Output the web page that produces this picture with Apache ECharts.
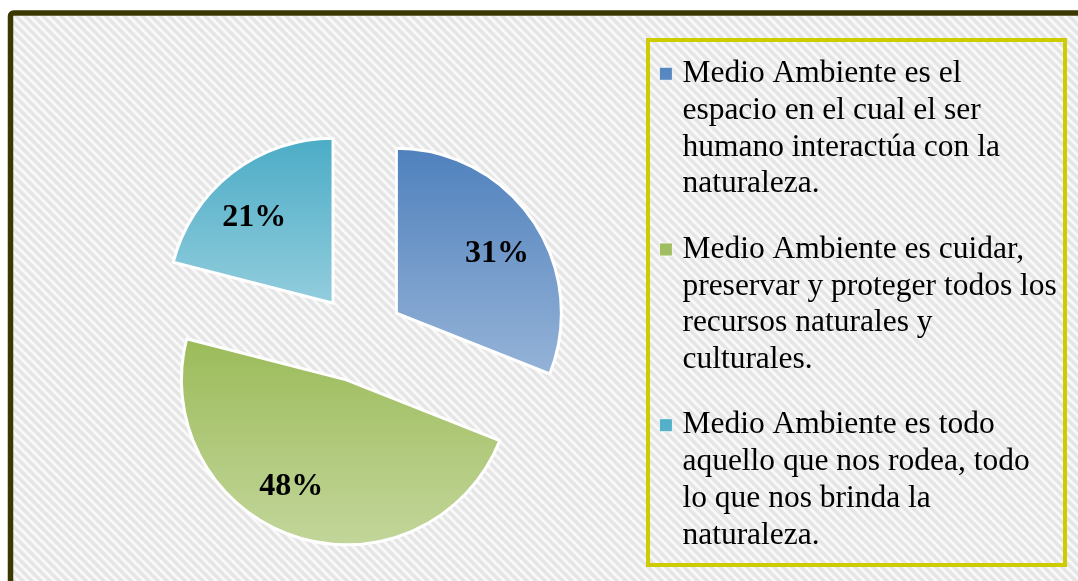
<!DOCTYPE html>
<html>
<head>
<meta charset="utf-8">
<script src="https://cdn.jsdelivr.net/npm/echarts@6/dist/echarts.min.js"></script>
<style>
html, body { margin: 0; padding: 0; background: #fff; }
#chart { width: 1078px; height: 581px; }
</style>
</head>
<body>
<div id="chart"></div>
<script>
// datos del gráfico
const categories = [
    'Medio Ambiente es el\nespacio en el cual el ser\nhumano interactúa con la\nnaturaleza.',
    'Medio Ambiente es cuidar,\npreservar y proteger todos los\nrecursos naturales y\nculturales.',
    'Medio Ambiente es todo\naquello que nos rodea, todo\nlo que nos brinda la\nnaturaleza.'
];
const percentages = [31, 48, 21];
const topColors = ['#4f81bd', '#9bbb59', '#4bacc6'];
const bottomColors = ['#95b3d7', '#c3d69b', '#93cddd'];
// ajuste fino de las etiquetas (px): [dx, dy]
const labelShift = [[1, 8], [-18, -8], [-5, 10]];

// fondo rayado en diagonal
function makeHatch() {
    const size = 9;
    const c = document.createElement('canvas');
    c.width = size;
    c.height = size;
    const ctx = c.getContext('2d');
    ctx.fillStyle = '#f9f9f9';
    ctx.fillRect(0, 0, size, size);
    ctx.strokeStyle = '#e5e5e5';
    ctx.lineWidth = 3.5;
    for (let k = -1; k <= 1; k++) {
        ctx.beginPath();
        ctx.moveTo(-1, k * size - 1);
        ctx.lineTo(size + 1, (k + 1) * size + 1);
        ctx.stroke();
    }
    return c;
}

function gradient(i) {
    return {
        type: 'linear', x: 0, y: 0, x2: 0, y2: 1,
        colorStops: [
            { offset: 0, color: topColors[i] },
            { offset: 1, color: bottomColors[i] }
        ]
    };
}

const lineH = 36.8;
const legendItemH = lineH * 4;
const iconTop = lineH / 2 - 6.5;

const chart = echarts.init(document.getElementById('chart'));
chart.setOption({
    animation: false,
    backgroundColor: '#fff',
    graphic: [
        {
            type: 'rect', z: -10, silent: true,
            shape: { x: 13, y: 16, width: 1100, height: 600 },
            style: { fill: { image: makeHatch(), repeat: 'repeat' } }
        },
        {
            type: 'rect', z: -5, silent: true,
            shape: { x: 10.5, y: 13, width: 1100, height: 600, r: 3 },
            style: { fill: null, stroke: '#3a3800', lineWidth: 5.5 }
        },
        {
            type: 'rect', z: -5, silent: true,
            shape: { x: 648, y: 40, width: 417, height: 525 },
            style: { fill: null, stroke: '#cccc00', lineWidth: 4 }
        }
    ],
    legend: {
        orient: 'vertical',
        left: 659,
        top: 55,
        padding: 0,
        itemGap: 27.7,
        itemWidth: 13,
        itemHeight: legendItemH,
        icon: 'path://M0,0h0.1v0.1h-0.1Z M0,' + legendItemH + 'h0.1v0.1h-0.1Z M0,' + iconTop + 'h13v13h-13Z',
        selectedMode: false,
        itemStyle: { borderColor: '#fff', borderWidth: 0.8 },
        textStyle: {
            fontFamily: 'Liberation Serif',
            fontSize: 31.5,
            lineHeight: lineH,
            color: '#000',
            padding: [0, 0, 0, 5]
        },
        data: categories
    },
    series: [
        {
            type: 'pie',
            center: [360, 338],
            radius: [0, 165],
            startAngle: 90,
            clockwise: true,
            selectedMode: 'multiple',
            selectedOffset: 44,
            emphasis: { disabled: true },
            itemStyle: { borderColor: '#fff', borderWidth: 3 },
            select: { itemStyle: { borderColor: '#fff', borderWidth: 3 } },
            label: { show: false },
            labelLine: { show: false },
            data: percentages.map((v, i) => ({
                value: v,
                name: categories[i],
                selected: true,
                itemStyle: { color: gradient(i) }
            }))
        },
        {
            // serie solo para las etiquetas de porcentaje
            type: 'pie',
            center: [360, 338],
            radius: [70, 165],
            startAngle: 90,
            clockwise: true,
            selectedMode: 'multiple',
            selectedOffset: 44,
            emphasis: { disabled: true },
            itemStyle: { color: 'rgba(0,0,0,0)', borderWidth: 0 },
            select: { itemStyle: { color: 'rgba(0,0,0,0)', borderWidth: 0 } },
            label: {
                show: true,
                position: 'inside',
                formatter: '{c}%',
                fontFamily: 'Liberation Serif',
                fontWeight: 'bold',
                fontSize: 32,
                color: '#000'
            },
            labelLayout: function (p) {
                return { dx: labelShift[p.dataIndex][0], dy: labelShift[p.dataIndex][1] };
            },
            labelLine: { show: false },
            data: percentages.map((v, i) => ({
                value: v,
                name: categories[i],
                selected: true
            }))
        }
    ]
});
</script>
</body>
</html>
